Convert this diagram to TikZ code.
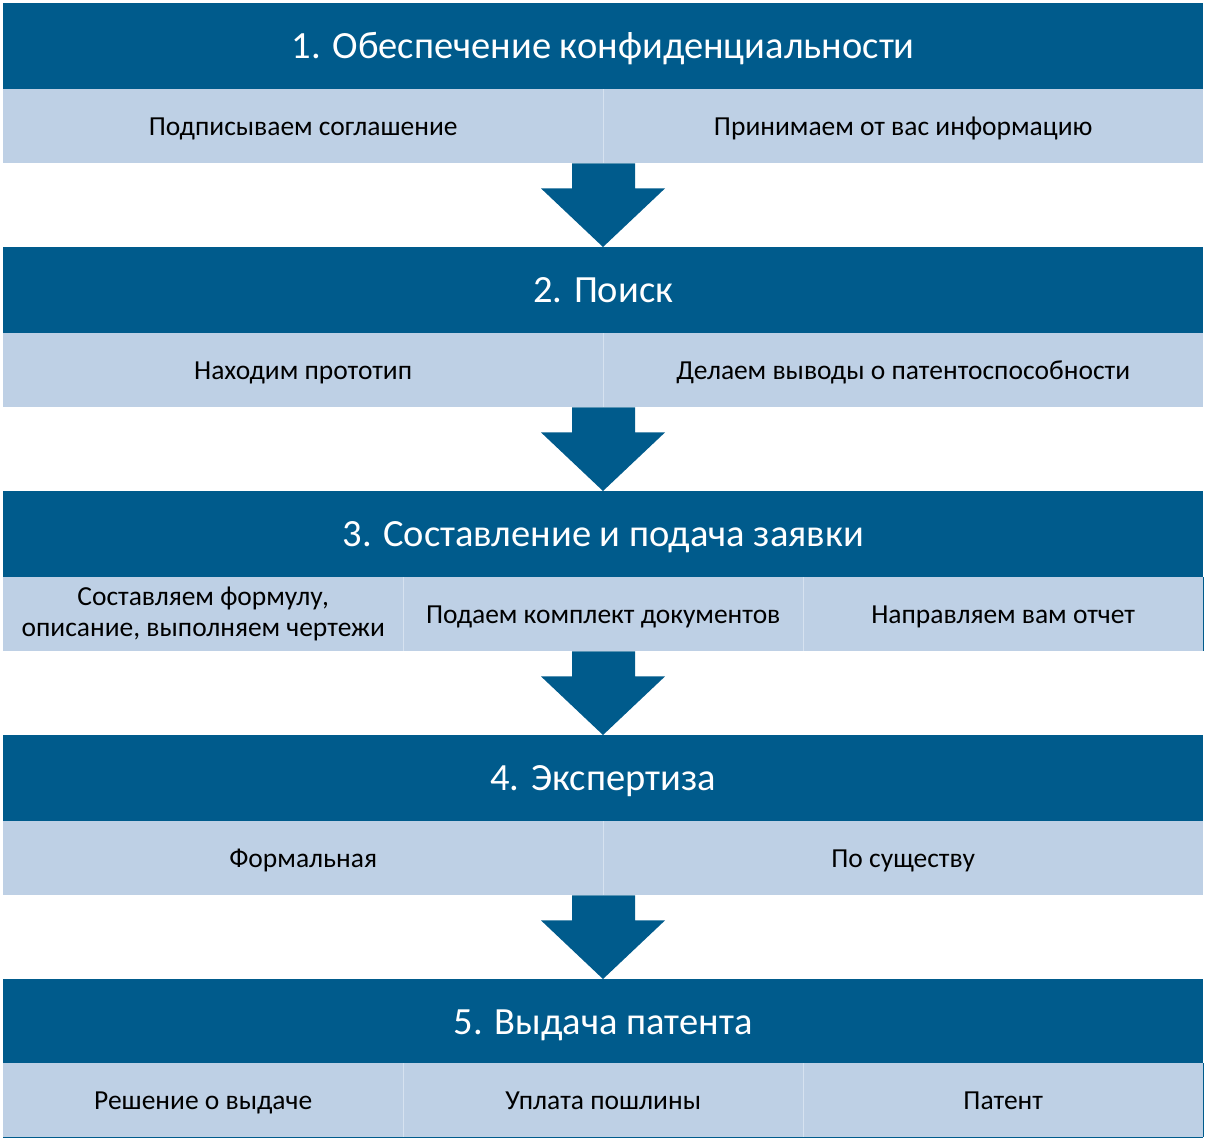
\documentclass[tikz,border=0pt]{standalone}
\usepackage{fontspec}
\setmainfont{Carlito}
\usetikzlibrary{calc}
\definecolor{dk}{RGB}{0,91,140}
\definecolor{lt}{RGB}{190,208,229}
\definecolor{dv}{RGB}{214,226,240}
\begin{document}
\begin{tikzpicture}[x=1pt,y=-1pt,
  hdr/.style={fill=dk, text=white, minimum width=1200pt, minimum height=86pt, inner sep=0pt, anchor=north west, font=\fontsize{38.5}{44}\selectfont, text height=26pt, text depth=1.5pt},
  cell/.style={fill=lt, text=black, minimum height=74pt, inner sep=0pt, anchor=north west, align=center, font=\fontsize{27.5}{31}\selectfont},
  one/.style={text height=19pt, text depth=1pt},
  two/.style={cell, one, minimum width=600pt},
  three/.style={cell, one, minimum width=400pt},
  threem/.style={cell, minimum width=400pt},
  divline/.style={draw=dv, line width=1pt},
  edgeline/.style={draw=dk, line width=1.5pt},
  flowarrow/.style={fill=dk, draw=none}
]
\useasboundingbox (0,0) rectangle (1209,1143);
\fill[white] (0,0) rectangle (1209,1143);

% block 1
\node[hdr] (h1) at (3,3) {1. Обеспечение конфиденциальности};
\node[two] (c11) at (3,89) {Подписываем соглашение};
\node[two] (c12) at (603,89) {Принимаем от вас информацию};
% block 2
\node[hdr] (h2) at (3,247) {2. Поиск};
\node[two] (c21) at (3,333) {Находим прототип};
\node[two] (c22) at (603,333) {Делаем выводы о патентоспособности};
% block 3
\node[hdr] (h3) at (3,491) {3. Составление и подача заявки};
\node[threem] (c31) at (3,577) {Составляем формулу,\\описание, выполняем чертежи};
\node[three] (c32) at (403,577) {Подаем комплект документов};
\node[three] (c33) at (803,577) {Направляем вам отчет};
% block 4
\node[hdr] (h4) at (3,735) {4. Экспертиза};
\node[two] (c41) at (3,821) {Формальная};
\node[two] (c42) at (603,821) {По существу};
% block 5
\node[hdr] (h5) at (3,979) {5. Выдача патента};
\node[three] (c51) at (3,1063) {Решение о выдаче};
\node[three] (c52) at (403,1063) {Уплата пошлины};
\node[three] (c53) at (803,1063) {Патент};

% dividers
\draw[divline] (c11.north east) -- (c11.south east);
\draw[divline] (c21.north east) -- (c21.south east);
\draw[divline] (c31.north east) -- (c31.south east);
\draw[divline] (c32.north east) -- (c32.south east);
\draw[divline] (c41.north east) -- (c41.south east);
\draw[divline] (c51.north east) -- (c51.south east);
\draw[divline] (c52.north east) -- (c52.south east);

% table edges
\draw[edgeline] (c33.north east) -- (c33.south east);
\draw[edgeline] (c53.north east) -- (c53.south east);
\draw[edgeline] (c51.south west) -- (c53.south east);

% arrows
\foreach \a/\b in {c11/h2, c21/h3, c31/h4, c41/h5}{
  \fill[flowarrow] ($(\a.south west)+(569,0)$) -- ($(\a.south west)+(632,0)$)
     -- ($(\a.south west)+(632,25)$) -- ($(\a.south west)+(662,25)$)
     -- ($(\b.north west)+(600,0)$) -- ($(\a.south west)+(538,25)$)
     -- ($(\a.south west)+(569,25)$) -- cycle;
}
\end{tikzpicture}
\end{document}
